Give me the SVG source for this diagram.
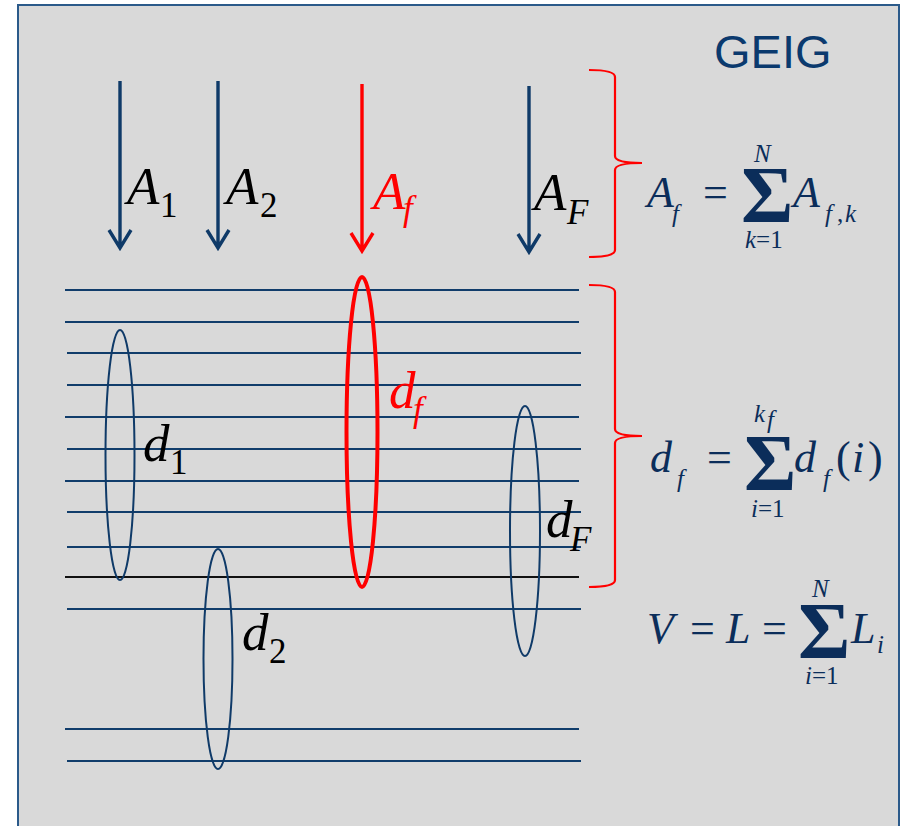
<svg xmlns="http://www.w3.org/2000/svg" width="900" height="826" viewBox="0 0 900 826">
<style>
.frame{fill:#d9d9d9;stroke:#2b5a8a;stroke-width:2}
.layer{stroke:#113d6b;stroke-width:2.2;fill:none}
.arr{stroke:#0f3a68;stroke-width:3.4;fill:none}
.arrR{stroke:#ff0000;stroke-width:3.4;fill:none}
.ell{fill:none;stroke:#0f3a68;stroke-width:2}
.brace{fill:none;stroke:#ff0000;stroke-width:2.2}
.lab{font-family:"Liberation Serif","Times New Roman",serif;font-style:italic;font-size:53px;fill:#000}
.sub{font-style:normal;font-size:35px}
.subi{font-style:italic;font-size:35px}
.red{fill:#ff0000}
.f{font-family:"Liberation Serif","Times New Roman",serif;font-style:italic;font-size:44px;fill:#0b2d5a}
.up{font-style:normal}
.s{font-size:25px}
.sig{font-style:normal;font-weight:bold;font-size:80px}
.title{font-family:"Liberation Sans",Arial,sans-serif;font-size:47px;fill:#0b3a6e}
</style>
<rect class="frame" x="18" y="5" width="881" height="840"/>
<text class="title" x="714" y="68">GEIG</text>

<g id="layers">
<line class="layer" x1="65" y1="290" x2="579" y2="290"/>
<line class="layer" x1="65" y1="322" x2="579" y2="322"/>
<line class="layer" x1="67" y1="353" x2="581" y2="353"/>
<line class="layer" x1="67" y1="385" x2="581" y2="385"/>
<line class="layer" x1="65" y1="417" x2="579" y2="417"/>
<line class="layer" x1="67" y1="449" x2="581" y2="449"/>
<line class="layer" x1="65" y1="481" x2="579" y2="481"/>
<line class="layer" x1="67" y1="512" x2="581" y2="512"/>
<line class="layer" x1="67" y1="547" x2="581" y2="547"/>
<line x1="65" y1="577" x2="579" y2="577" stroke="#111" stroke-width="2.2"/>
<line class="layer" x1="67" y1="609" x2="581" y2="609"/>
<line class="layer" x1="65" y1="729" x2="579" y2="729"/>
<line class="layer" x1="67" y1="761" x2="581" y2="761"/>
</g>

<g id="arrows">
<g id="arrow-A1"><path class="arr" d="M120,81 V248 M109,230 L120,248 L131,230"/>
<text class="lab" x="127" y="204">A<tspan class="sub" x="160" y="217">1</tspan></text></g>
<g id="arrow-A2"><path class="arr" d="M218,81 V248 M207,230 L218,248 L229,230"/>
<text class="lab" x="226" y="204">A<tspan class="sub" x="260" y="217">2</tspan></text></g>
<g id="arrow-Af"><path class="arrR" d="M362,84 V251 M351,233 L362,251 L373,233"/>
<text class="lab red" x="373" y="209">A<tspan class="subi" x="403" y="220">f</tspan></text></g>
<g id="arrow-AF"><path class="arr" d="M529,86 V252 M518,234 L529,252 L540,234"/>
<text class="lab" x="534" y="210">A<tspan class="subi" x="567" y="224">F</tspan></text></g>
</g>

<g id="domains">
<g id="d1"><ellipse class="ell" cx="120" cy="455" rx="14.5" ry="125"/>
<text class="lab" x="143" y="461">d<tspan class="sub" x="170" y="474">1</tspan></text></g>
<g id="d2"><ellipse class="ell" cx="218" cy="659" rx="14.5" ry="110"/>
<text class="lab" x="242" y="650">d<tspan class="sub" x="269" y="663">2</tspan></text></g>
<g id="df"><ellipse cx="362" cy="432" rx="15.5" ry="155" fill="none" stroke="#ff0000" stroke-width="4"/>
<text class="lab red" x="389" y="408">d<tspan class="subi" x="413" y="421">f</tspan></text></g>
<g id="dF"><ellipse class="ell" cx="525" cy="531" rx="15" ry="125"/>
<text class="lab" x="546" y="537">d<tspan class="subi" x="570" y="551">F</tspan></text></g>
</g>

<g id="braces">
<path class="brace" d="M589,70 Q615,70 615,77 L615,156 Q615,163 642,163 Q615,163 615,170 L615,250 Q615,257 589,257"/>
<path class="brace" d="M589,285 Q615,285 615,292 L615,429 Q615,436 642,436 Q615,436 615,443 L615,580 Q615,587 589,587"/>
</g>

<g id="formula-Af">
<text class="f" x="647" y="207">A<tspan class="s" x="672" y="222">f</tspan><tspan class="up" x="703" y="207">=</tspan><tspan class="sig" x="741" y="222">Σ</tspan><tspan class="s" x="754" y="162">N</tspan><tspan class="s" x="745" y="248">k</tspan><tspan class="s up">=1</tspan><tspan x="793" y="207">A</tspan><tspan class="s" x="825" y="222">f</tspan><tspan class="s up" x="837" y="222">,</tspan><tspan class="s" x="845" y="222">k</tspan></text>
</g>

<g id="formula-df">
<text class="f" x="650" y="472">d<tspan class="s" x="677" y="487">f</tspan><tspan class="up" x="707" y="472">=</tspan><tspan class="sig" x="744" y="490">Σ</tspan><tspan class="s" x="754" y="422">k</tspan><tspan class="s" x="767" y="428" font-size="18">f</tspan><tspan class="s" x="751" y="517">i</tspan><tspan class="s up">=1</tspan><tspan x="794" y="472">d</tspan><tspan class="s" x="823" y="487">f</tspan><tspan class="up" x="836" y="472">(</tspan><tspan x="852" y="472">i</tspan><tspan class="up" x="868" y="472">)</tspan></text>
</g>

<g id="formula-V">
<text class="f" x="647" y="643">V<tspan class="up" x="690" y="643">=</tspan><tspan x="726" y="643">L</tspan><tspan class="up" x="762" y="643">=</tspan><tspan class="sig" x="798" y="658">Σ</tspan><tspan class="s" x="812" y="597">N</tspan><tspan class="s" x="805" y="684">i</tspan><tspan class="s up">=1</tspan><tspan x="851" y="643">L</tspan><tspan class="s" x="877" y="653">i</tspan></text>
</g>
</svg>
